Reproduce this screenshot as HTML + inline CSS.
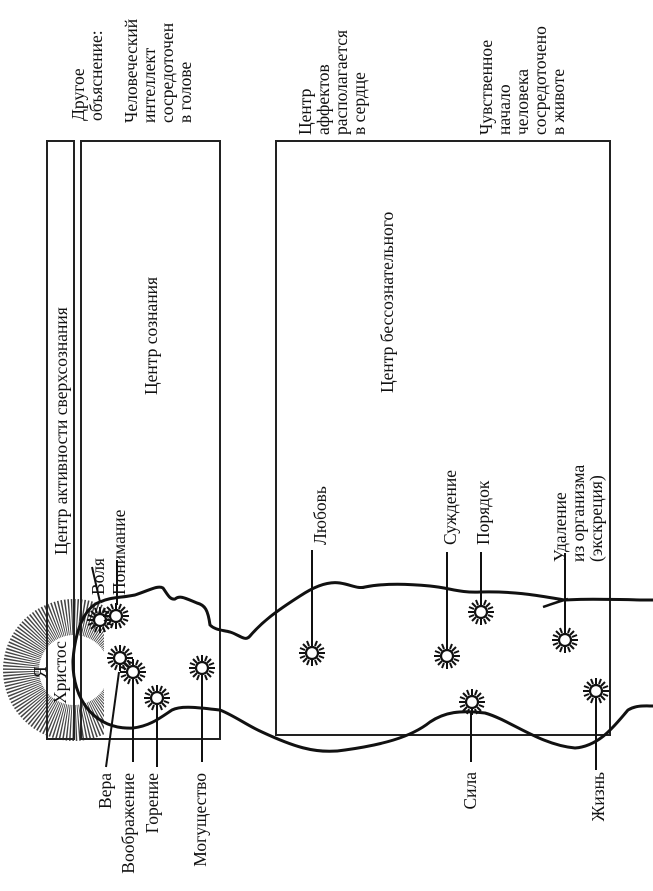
<!DOCTYPE html>
<html><head><meta charset="utf-8"><style>
html,body{margin:0;padding:0;background:#fff;}
svg{display:block;}
text{font-family:"Liberation Serif","DejaVu Serif",serif;font-size:17.5px;fill:#111;}
</style></head><body>
<svg width="653" height="891" viewBox="0 0 653 891" xmlns="http://www.w3.org/2000/svg">
<defs>
<clipPath id="hc"><rect x="0" y="560" width="104" height="200"/></clipPath>
<g id="star"><circle r="6" fill="#fff" stroke="#111" stroke-width="2.2"/>
<g stroke="#111" stroke-width="2">
<line x1="0" y1="-7" x2="0" y2="-13"/><line x1="0" y1="7" x2="0" y2="13"/>
<line x1="-7" y1="0" x2="-13" y2="0"/><line x1="7" y1="0" x2="13" y2="0"/>
<line x1="5" y1="5" x2="9" y2="9"/><line x1="-5" y1="-5" x2="-9" y2="-9"/>
<line x1="5" y1="-5" x2="9" y2="-9"/><line x1="-5" y1="5" x2="-9" y2="9"/>
<line x1="3" y1="-7" x2="5" y2="-12"/><line x1="-3" y1="7" x2="-5" y2="12"/>
<line x1="7" y1="3" x2="12" y2="5"/><line x1="-7" y1="-3" x2="-12" y2="-5"/>
<line x1="-3" y1="-7" x2="-5" y2="-12"/><line x1="3" y1="7" x2="5" y2="12"/>
<line x1="7" y1="-3" x2="12" y2="-5"/><line x1="-7" y1="3" x2="-12" y2="5"/>
</g></g>
</defs>
<g clip-path="url(#hc)">
<circle cx="74" cy="670" r="53" fill="none" stroke="#444" stroke-width="36" stroke-dasharray="1.2 1.4"/>
</g>
<g fill="none" stroke="#222" stroke-width="2">
<rect x="47" y="141" width="27" height="598"/>
<rect x="81" y="141" width="139" height="598"/>
<rect x="276" y="141" width="334" height="594"/>
</g>
<g fill="none" stroke="#111" stroke-width="3" stroke-linejoin="round">
<path d="M100,602 C90,605 76,620 73,660 C72,700 95,730 133,728 C150,726 160,718 172,710 C182,705 200,708 220,710 C235,716 248,726 262,732 C290,745 315,755 345,750 C380,745 410,738 430,722 C445,712 460,710 485,713 C510,720 540,745 575,748 C600,746 615,725 628,710 C636,705 645,706 653,706"/>
<path d="M100,602 C110,597 120,598 135,595 C150,590 158,585 163,588 C168,595 170,600 175,599 C180,595 185,598 197,603 C205,605 208,610 210,625 C215,630 222,630 230,632 C240,635 245,642 250,636 C262,622 275,612 300,596 C315,586 328,581 340,583 C352,585 358,589 365,587 C380,584 400,583 430,586 C450,588 460,593 480,592 C520,591 545,597 565,600 C590,598 620,600 653,600"/>
<path d="M543,607 C552,604 560,601 568,599" stroke-width="2.5"/>
</g>
<g stroke="#111" stroke-width="2">
<line x1="92" y1="567" x2="100" y2="602"/>
<line x1="117" y1="560" x2="117" y2="605"/>
<line x1="106" y1="767" x2="119" y2="672"/>
<line x1="133" y1="683" x2="133" y2="762"/>
<line x1="157" y1="710" x2="157" y2="767"/>
<line x1="202" y1="680" x2="202" y2="762"/>
<line x1="312" y1="550" x2="312" y2="643"/>
<line x1="447" y1="552" x2="447" y2="646"/>
<line x1="481" y1="552" x2="481" y2="603"/>
<line x1="565" y1="553" x2="565" y2="630"/>
<line x1="471" y1="712" x2="471" y2="762"/>
<line x1="596" y1="702" x2="596" y2="770"/>
</g>
<use href="#star" x="100" y="620"/>
<use href="#star" x="116" y="616"/>
<use href="#star" x="120" y="658"/>
<use href="#star" x="133" y="672"/>
<use href="#star" x="157" y="698"/>
<use href="#star" x="202" y="668"/>
<use href="#star" x="312" y="653"/>
<use href="#star" x="447" y="656"/>
<use href="#star" x="481" y="612"/>
<use href="#star" x="565" y="640"/>
<use href="#star" x="472" y="702"/>
<use href="#star" x="596" y="691"/>
<g>
<text transform="translate(84,121) rotate(-90)">Другое</text>
<text transform="translate(102,121) rotate(-90)">объяснение:</text>
<text transform="translate(137,123) rotate(-90)">Человеческий</text>
<text transform="translate(155,123) rotate(-90)">интеллект</text>
<text transform="translate(173,123) rotate(-90)">сосредоточен</text>
<text transform="translate(191,123) rotate(-90)">в  голове</text>
<text transform="translate(311,135) rotate(-90)">Центр</text>
<text transform="translate(329,135) rotate(-90)">аффектов</text>
<text transform="translate(347,135) rotate(-90)">располагается</text>
<text transform="translate(365,135) rotate(-90)">в  сердце</text>
<text transform="translate(492,135) rotate(-90)">Чувственное</text>
<text transform="translate(510,135) rotate(-90)">начало</text>
<text transform="translate(528,135) rotate(-90)">человека</text>
<text transform="translate(546,135) rotate(-90)">сосредоточено</text>
<text transform="translate(564,135) rotate(-90)">в  животе</text>

<text transform="translate(67,555) rotate(-90)">Центр активности сверхсознания</text>
<text transform="translate(157,395) rotate(-90)">Центр сознания</text>
<text transform="translate(393,393) rotate(-90)">Центр бессознательного</text>

<text transform="translate(104,595) rotate(-90)">Воля</text>
<text transform="translate(125,595) rotate(-90)">Понимание</text>
<text transform="translate(326,545) rotate(-90)">Любовь</text>
<text transform="translate(456,545) rotate(-90)">Суждение</text>
<text transform="translate(489,545) rotate(-90)">Порядок</text>
<text transform="translate(566,562) rotate(-90)">Удаление</text>
<text transform="translate(584,562) rotate(-90)">из организма</text>
<text transform="translate(602,562) rotate(-90)">(экскреция)</text>

<text transform="translate(46,678) rotate(-90)">Я</text>
<text transform="translate(66,704) rotate(-90)">Христос</text>

<text text-anchor="end" transform="translate(111,773) rotate(-90)">Вера</text>
<text text-anchor="end" transform="translate(134,773) rotate(-90)">Воображение</text>
<text text-anchor="end" transform="translate(158,773) rotate(-90)">Горение</text>
<text text-anchor="end" transform="translate(206,773) rotate(-90)">Могущество</text>
<text text-anchor="end" transform="translate(476,772) rotate(-90)">Сила</text>
<text text-anchor="end" transform="translate(604,772) rotate(-90)">Жизнь</text>
</g>
</svg>
</body></html>
